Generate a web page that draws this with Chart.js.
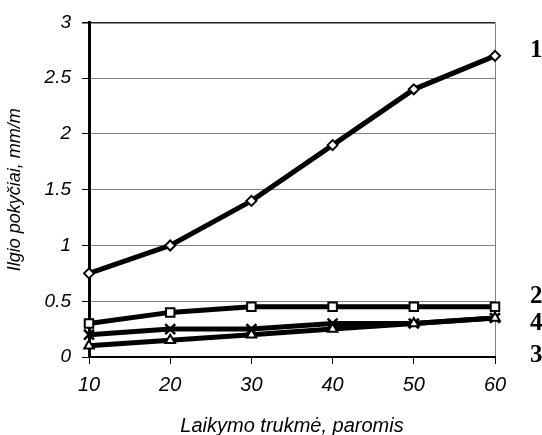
<!DOCTYPE html>
<html>
<head>
<meta charset="utf-8">
<script src="https://cdn.jsdelivr.net/npm/chart.js@4"></script>
<style>
  html, body { margin: 0; padding: 0; background: #fff; }
  canvas { display: block; }
</style>
</head>
<body>
<canvas id="chart" width="542" height="435"></canvas>
<script>
const days = [10, 20, 30, 40, 50, 60];
const series1 = [0.75, 1.0, 1.4, 1.9, 2.4, 2.7];
const series2 = [0.3, 0.4, 0.45, 0.45, 0.45, 0.45];
const series4 = [0.2, 0.25, 0.25, 0.3, 0.3, 0.35];
const series3 = [0.1, 0.15, 0.2, 0.25, 0.3, 0.35];

// numbers written at the right of each curve, and the height they sit at
const curveNames = ["1", "2", "4", "3"];
const curveNameAt = [2.75, 0.54, 0.3, 0.01];

const xTitle = "Laikymo trukmė, paromis";
const yTitle = "Ilgio pokyčiai, mm/m";

function points(vals) {
    return days.map((d, i) => ({ x: d, y: vals[i] }));
}

function lineSet(vals, style, radius, bw) {
    return {
        data: points(vals),
        borderColor: "#000",
        borderWidth: 5,
        tension: 0,
        pointStyle: style,
        pointRadius: radius,
        pointBorderWidth: bw,
        pointBorderColor: "#000",
        pointBackgroundColor: "#fff",
        clip: false
    };
}

const curveLabels = {
    id: "curveLabels",
    afterDatasetsDraw(chart) {
        const ctx = chart.ctx;
        const y = chart.scales.y;
        ctx.save();
        ctx.fillStyle = "#000";
        ctx.font = "bold 25px 'Liberation Serif', 'Times New Roman', serif";
        ctx.textAlign = "left";
        ctx.textBaseline = "middle";
        curveNames.forEach((name, i) => {
            ctx.fillText(name, chart.chartArea.right + 35, y.getPixelForValue(curveNameAt[i]));
        });
        ctx.restore();
    }
};

const sans = "'Liberation Sans', Arial, sans-serif";

const ctx = document.getElementById("chart").getContext("2d");
new Chart(ctx, {
    type: "line",
    data: {
        datasets: [
            lineSet(series3, "triangle", 5.5, 2),
            lineSet(series4, "crossRot", 7, 2.5),
            lineSet(series2, "rect", 6, 2),
            lineSet(series1, "rectRot", 5, 2)
        ]
    },
    options: {
        responsive: false,
        animation: false,
        layout: { padding: { left: 0, top: 21, right: 47, bottom: 0 } },
        plugins: {
            legend: { display: false },
            tooltip: { enabled: false }
        },
        scales: {
            x: {
                type: "linear",
                min: 10,
                max: 60,
                afterFit: (s) => { s.height = 78; },
                ticks: {
                    stepSize: 10,
                    color: "#000",
                    padding: 9,
                    font: { family: sans, size: 20, style: "italic" }
                },
                grid: {
                    color: (c) => (c.tick && c.tick.value === 60 ? "#808080" : "rgba(0,0,0,0)"),
                    tickColor: "#000",
                    tickLength: 7,
                    lineWidth: 1
                },
                border: { color: "#000", width: 2 },
                title: {
                    display: true,
                    text: xTitle,
                    color: "#000",
                    padding: { top: 0, bottom: -3 },
                    font: { family: sans, size: 20, style: "italic" }
                }
            },
            y: {
                min: 0,
                max: 3,
                afterFit: (s) => { s.width = 89; },
                ticks: {
                    stepSize: 0.5,
                    color: "#000",
                    padding: 11,
                    callback: (v) => String(v),
                    font: { family: sans, size: 19, style: "italic" }
                },
                grid: {
                    color: (c) => (c.tick && c.tick.value === 3 ? "#222" : "#808080"),
                    lineWidth: (c) => (c.tick && c.tick.value === 3 ? 1.5 : 1),
                    tickColor: "#000",
                    tickLength: 7
                },
                border: { color: "#000", width: 3 },
                title: {
                    display: true,
                    text: yTitle,
                    color: "#000",
                    padding: { top: 4, bottom: 0 },
                    font: { family: sans, size: 18, style: "italic" }
                }
            }
        }
    },
    plugins: [curveLabels]
});
</script>
</body>
</html>
